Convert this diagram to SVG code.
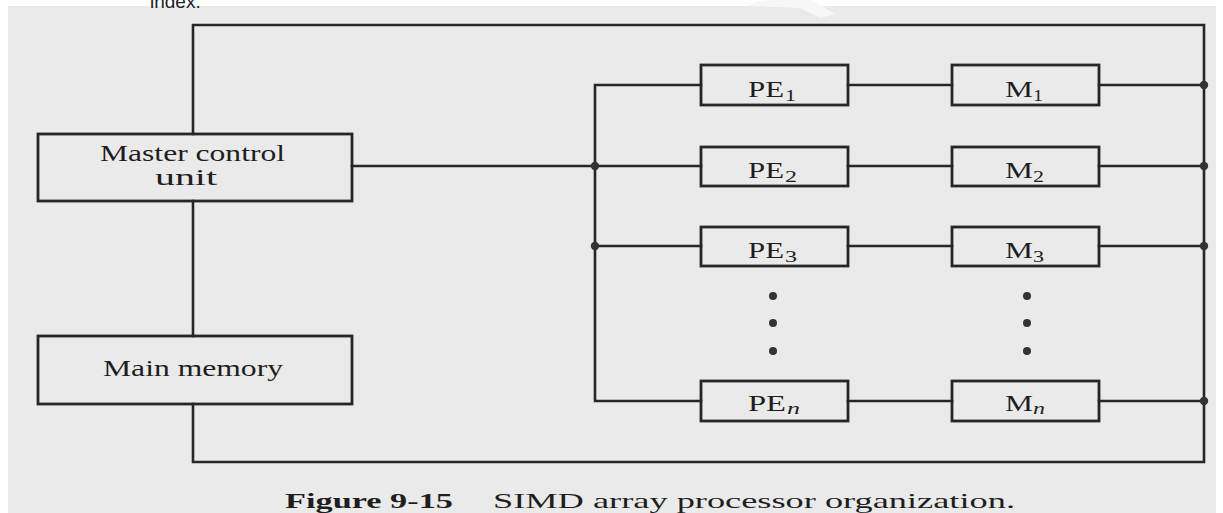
<svg xmlns="http://www.w3.org/2000/svg" width="1223" height="513" viewBox="0 0 1223 513">
  <style>
    .box { fill: none; stroke: #262626; stroke-width: 2.8; }
    .wire { fill: none; stroke: #262626; stroke-width: 2.6; stroke-linecap: square; }
    .dot { fill: #333333; }
    .lbl { font-family: "Liberation Serif", "Times New Roman", serif; fill: #1e1e1e; font-size: 24px; }
    .sub { font-family: "Liberation Serif", "Times New Roman", serif; fill: #1e1e1e; font-size: 17px; }
    .cap { font-family: "Liberation Serif", "Times New Roman", serif; fill: #1e1e1e; font-size: 21px; }
  </style>
  <rect x="0" y="0" width="1223" height="513" fill="#ffffff"/>
  <rect x="8" y="6" width="1208" height="507" fill="#eaeaea"/>
  <path d="M748,6 Q760,-2 790,0 L812,0 L835,14 L820,18 L800,8 Z" fill="#f7f7f7"/>
  <text x="150" y="8" font-family="Liberation Sans, Arial, sans-serif" font-size="19" fill="#222">index.</text>

  <g id="connectors">
    <polyline class="wire" points="193,134 193,25 1204,25 1204,462 193,462 193,404"/>
    <line class="wire" x1="193" y1="201" x2="193" y2="336"/>
    <line class="wire" x1="352" y1="166" x2="701" y2="166"/>
    <polyline class="wire" points="701,85 595,85 595,401 701,401"/>
    <line class="wire" x1="595" y1="246" x2="701" y2="246"/>
    <line class="wire" x1="848" y1="85" x2="952" y2="85"/>
    <line class="wire" x1="848" y1="166" x2="952" y2="166"/>
    <line class="wire" x1="848" y1="246" x2="952" y2="246"/>
    <line class="wire" x1="848" y1="401" x2="952" y2="401"/>
    <line class="wire" x1="1099" y1="85" x2="1204" y2="85"/>
    <line class="wire" x1="1099" y1="166" x2="1204" y2="166"/>
    <line class="wire" x1="1099" y1="246" x2="1204" y2="246"/>
    <line class="wire" x1="1099" y1="401" x2="1204" y2="401"/>
    <circle class="dot" cx="595" cy="166" r="4.2"/>
    <circle class="dot" cx="595" cy="246" r="4.2"/>
    <circle class="dot" cx="1204" cy="85" r="4.2"/>
    <circle class="dot" cx="1204" cy="166" r="4.2"/>
    <circle class="dot" cx="1204" cy="246" r="4.2"/>
    <circle class="dot" cx="1204" cy="401" r="4.2"/>
  </g>

  <g id="mcu">
    <rect class="box" x="38" y="134" width="314" height="67"/>
    <text class="lbl" x="100" y="161" textLength="185" lengthAdjust="spacingAndGlyphs">Master control</text>
    <text class="lbl" x="155" y="185" textLength="62" lengthAdjust="spacingAndGlyphs">unit</text>
  </g>
  <g id="main-memory">
    <rect class="box" x="38" y="336" width="314" height="68"/>
    <text class="lbl" x="103" y="376" textLength="180" lengthAdjust="spacingAndGlyphs">Main memory</text>
  </g>

  <g id="pe1">
    <rect class="box" x="701" y="65" width="147" height="40"/>
    <text class="lbl" x="748" y="97" textLength="36" lengthAdjust="spacingAndGlyphs">PE</text>
    <text class="sub" x="785" y="101" textLength="11" lengthAdjust="spacingAndGlyphs">1</text>
  </g>
  <g id="pe2">
    <rect class="box" x="701" y="147" width="147" height="39"/>
    <text class="lbl" x="748" y="178" textLength="36" lengthAdjust="spacingAndGlyphs">PE</text>
    <text class="sub" x="785" y="182" textLength="12" lengthAdjust="spacingAndGlyphs">2</text>
  </g>
  <g id="pe3">
    <rect class="box" x="701" y="227" width="147" height="39"/>
    <text class="lbl" x="748" y="258" textLength="36" lengthAdjust="spacingAndGlyphs">PE</text>
    <text class="sub" x="785" y="262" textLength="12" lengthAdjust="spacingAndGlyphs">3</text>
  </g>
  <g id="pe-dots">
    <circle class="dot" cx="773" cy="296" r="4"/>
    <circle class="dot" cx="773" cy="323" r="4"/>
    <circle class="dot" cx="773" cy="351" r="4"/>
  </g>
  <g id="pen">
    <rect class="box" x="701" y="381" width="147" height="40"/>
    <text class="lbl" x="748" y="411" textLength="38" lengthAdjust="spacingAndGlyphs">PE</text>
    <text class="sub" x="787" y="414" font-style="italic" textLength="13" lengthAdjust="spacingAndGlyphs">n</text>
  </g>

  <g id="m1">
    <rect class="box" x="952" y="65" width="147" height="40"/>
    <text class="lbl" x="1005" y="97" textLength="28" lengthAdjust="spacingAndGlyphs">M</text>
    <text class="sub" x="1033" y="101" textLength="10" lengthAdjust="spacingAndGlyphs">1</text>
  </g>
  <g id="m2">
    <rect class="box" x="952" y="147" width="147" height="39"/>
    <text class="lbl" x="1005" y="178" textLength="28" lengthAdjust="spacingAndGlyphs">M</text>
    <text class="sub" x="1033" y="182" textLength="11" lengthAdjust="spacingAndGlyphs">2</text>
  </g>
  <g id="m3">
    <rect class="box" x="952" y="227" width="147" height="39"/>
    <text class="lbl" x="1005" y="258" textLength="28" lengthAdjust="spacingAndGlyphs">M</text>
    <text class="sub" x="1033" y="262" textLength="11" lengthAdjust="spacingAndGlyphs">3</text>
  </g>
  <g id="m-dots">
    <circle class="dot" cx="1027" cy="296" r="4"/>
    <circle class="dot" cx="1027" cy="323" r="4"/>
    <circle class="dot" cx="1027" cy="351" r="4"/>
  </g>
  <g id="mn">
    <rect class="box" x="952" y="381" width="147" height="40"/>
    <text class="lbl" x="1005" y="411" textLength="28" lengthAdjust="spacingAndGlyphs">M</text>
    <text class="sub" x="1033" y="414" font-style="italic" textLength="12" lengthAdjust="spacingAndGlyphs">n</text>
  </g>

  <g id="caption">
    <text class="cap" x="285" y="508" font-weight="bold" textLength="168" lengthAdjust="spacingAndGlyphs">Figure 9-15</text>
    <text class="cap" x="493" y="508" textLength="522" lengthAdjust="spacingAndGlyphs">SIMD array processor organization.</text>
  </g>
</svg>
